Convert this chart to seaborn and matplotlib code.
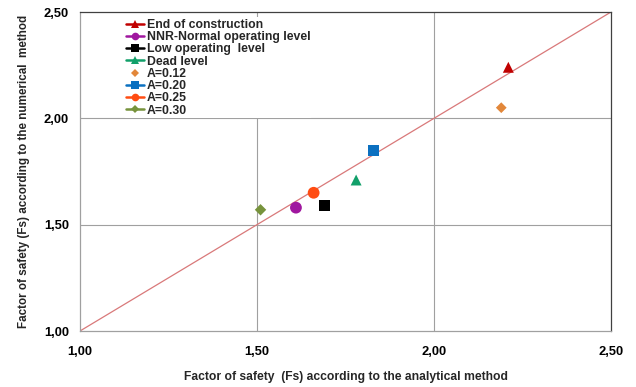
import matplotlib
matplotlib.use("Agg")
import matplotlib.pyplot as plt
from matplotlib.lines import Line2D
import seaborn as sns
import pandas as pd

# Factor of safety per case: analytical (x) vs numerical (y)
cases = ["End of construction", "NNR-Normal operating level", "Low operating  level",
         "Dead level", "A=0.12", "A=0.20", "A=0.25", "A=0.30"]
fs_analytical = [2.21, 1.61, 1.69, 1.78, 2.19, 1.83, 1.66, 1.51]
fs_numerical = [2.24, 1.58, 1.59, 1.71, 2.05, 1.85, 1.65, 1.57]
markers = ["^", "o", "s", "^", "D", "s", "o", "D"]
colors = ["#C00000", "#A0179F", "#000000", "#12A06A", "#E2873A", "#0B70C0", "#FF4C12", "#77933C"]
sizes = [62, 72, 58, 62, 30, 62, 72, 34]
legend_line = [True, True, True, True, False, True, True, True]

axis_ticks = [1.00, 1.50, 2.00, 2.50]
tick_labels = ["1,00", "1,50", "2,00", "2,50"]

df = pd.DataFrame({"case": cases, "x": fs_analytical, "y": fs_numerical})

sns.set_style("white")
plt.rcParams["font.family"] = ["Liberation Sans", "DejaVu Sans"]

fig = plt.figure(figsize=(6.36, 3.87), dpi=100)
ax = fig.add_axes([80 / 636, 1 - 331 / 387, 531 / 636, 319 / 387])

# 1:1 reference line
ax.plot([1.0, 2.5], [1.0, 2.5], color="#D9797A", lw=0.9, zorder=2)

for i, row in df.iterrows():
    sns.scatterplot(x=[row["x"]], y=[row["y"]], ax=ax, marker=markers[i], color=colors[i],
                    s=sizes[i], edgecolor="none", linewidth=0, zorder=4, legend=False)

ax.set_xlim(1.0, 2.5)
ax.set_ylim(1.0, 2.5)
ax.set_xticks(axis_ticks)
ax.set_yticks(axis_ticks)
ax.set_xticklabels(tick_labels, fontsize=9.3, fontweight="bold")
ax.set_yticklabels(tick_labels, fontsize=9.3, fontweight="bold")
ax.tick_params(axis="both", which="both", direction="out", length=5, width=0.8,
               color="#A0A0A0", pad=3, labelcolor="#000000")
ax.tick_params(axis="x", pad=6)

for v in [1.5, 2.0]:
    ax.axvline(v, color="#A0A0A0", lw=0.8, zorder=1)
    ax.axhline(v, color="#A0A0A0", lw=0.8, zorder=1)

ax.spines["left"].set_color("#A0A0A0")
ax.spines["bottom"].set_color("#A0A0A0")
ax.spines["top"].set_color("#404040")
ax.spines["right"].set_color("#404040")
for s in ax.spines.values():
    s.set_linewidth(0.9)

ax.set_xlabel("Factor of safety  (Fs) according to the analytical method",
              fontsize=8.7, fontweight="bold", labelpad=9)
ax.set_ylabel("Factor of safety (Fs) according to the numerical  method",
              fontsize=8.4, fontweight="bold", labelpad=10)

handles = []
for i in range(len(cases)):
    handles.append(Line2D([0], [0], color=colors[i], lw=1.8 if legend_line[i] else 0,
                          marker=markers[i], markersize=5.5 if markers[i] != "D" else 4.2,
                          markeredgewidth=0))
leg = ax.legend(handles, cases, loc="upper left", bbox_to_anchor=(124 / 636, 1 - 17 / 387),
                bbox_transform=fig.transFigure, fontsize=8.8, frameon=True, borderpad=0.15,
                handlelength=1.5, handletextpad=0.2, labelspacing=0.02, borderaxespad=0)
leg.get_frame().set_facecolor("white")
leg.get_frame().set_edgecolor("none")
leg.get_frame().set_alpha(1)
for t in leg.get_texts():
    t.set_fontweight("bold")
leg.set_zorder(3)

fig.savefig("out.png", dpi=100)
